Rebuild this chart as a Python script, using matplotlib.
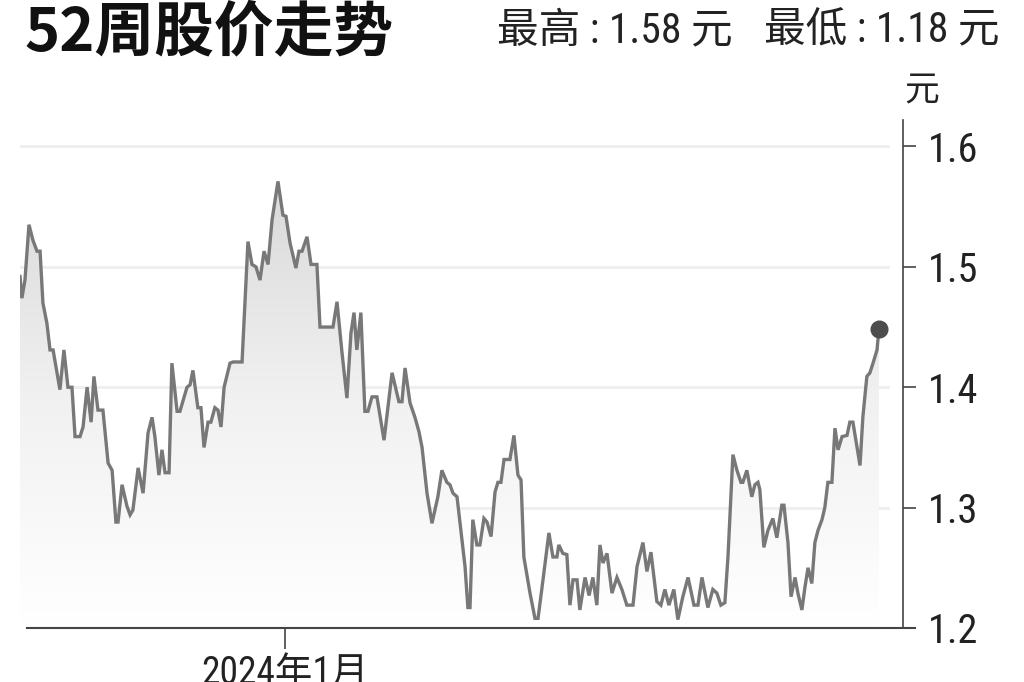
import numpy as np
import pandas as pd
import matplotlib
matplotlib.use("Agg")
import matplotlib.pyplot as plt
import matplotlib.dates as mdates
from matplotlib import font_manager as fm
from matplotlib.colors import LinearSegmentedColormap

# ---------------- data ----------------
start_date = "2023-09-11"
day_offsets = [
    0.0, 0.8, 2.1, 3.8, 5.5, 7.2, 8.5, 9.7, 11.4, 12.7, 14.0, 16.9, 18.6, 20.3, 22.0,
    23.3, 25.4, 26.7, 28.4, 30.1, 31.3, 33.0, 35.1, 37.3, 39.0, 40.6, 41.5, 43.2, 45.3,
    46.6, 47.8, 50.0, 52.1, 54.2, 55.9, 57.1, 58.8, 60.1, 61.4, 63.1, 64.3, 66.5, 67.7,
    70.7, 72.0, 73.2, 75.3, 76.6, 77.9, 79.6, 80.8, 82.5, 83.8, 85.1, 86.4, 88.9, 90.2,
    94.0, 96.5, 98.2, 99.9, 101.6, 103.3, 105.0, 106.7, 109.2, 111.3, 112.6, 114.3,
    116.8, 118.1, 119.4, 121.5, 123.2, 125.7, 127.0, 132.5, 134.2, 136.3, 138.4, 140.1,
    141.4, 142.6, 144.3, 146.0, 147.3, 149.0, 151.1, 154.1, 157.5, 160.4, 161.7, 163.0,
    165.1, 167.2, 168.9, 170.2, 172.3, 174.4, 176.9, 178.6, 180.7, 182.0, 183.3, 185.0,
    187.1, 188.4, 189.6, 190.5, 191.7, 193.4, 194.7, 196.4, 197.7, 199.4, 201.1, 202.3,
    203.6, 204.9, 207.4, 209.1, 210.8, 212.1, 213.3, 215.9, 218.0, 219.3, 221.4, 223.9,
    225.6, 227.3, 228.1, 229.8, 231.5, 232.8, 234.1, 235.8, 237.0, 239.2, 240.9, 242.5,
    244.2, 245.5, 246.8, 248.5, 250.6, 252.7, 254.8, 256.9, 259.5, 261.2, 263.7, 265.4,
    267.1, 269.6, 271.3, 273.0, 274.7, 276.8, 278.5, 280.6, 282.8, 285.3, 287.0, 288.7,
    291.2, 293.3, 295.0, 296.7, 298.4, 299.7, 301.8, 303.5, 305.2, 306.0, 307.7, 309.8,
    311.1, 312.4, 313.2, 314.9, 316.6, 318.7, 320.4, 322.5, 323.4, 325.1, 326.4, 328.1,
    329.3, 331.0, 332.3, 333.6, 335.2, 336.5, 337.8, 339.5, 340.7, 342.0, 343.7, 345.0,
    346.3, 348.0, 350.1, 351.3, 352.6, 355.6, 356.8, 358.5, 359.8, 361.1, 362.8, 363.6,
]
prices = [
    1.492, 1.474, 1.489, 1.535, 1.522, 1.513, 1.513, 1.470, 1.453, 1.431, 1.431, 1.398,
    1.431, 1.400, 1.400, 1.359, 1.359, 1.367, 1.400, 1.371, 1.409, 1.381, 1.381, 1.337,
    1.331, 1.288, 1.288, 1.319, 1.301, 1.294, 1.298, 1.333, 1.312, 1.362, 1.375, 1.359,
    1.327, 1.348, 1.329, 1.329, 1.420, 1.380, 1.380, 1.400, 1.402, 1.414, 1.383, 1.383,
    1.350, 1.371, 1.371, 1.383, 1.381, 1.367, 1.400, 1.420, 1.421, 1.421, 1.521, 1.502,
    1.500, 1.489, 1.513, 1.502, 1.539, 1.571, 1.543, 1.542, 1.520, 1.499, 1.513, 1.513,
    1.525, 1.502, 1.502, 1.450, 1.450, 1.471, 1.429, 1.391, 1.445, 1.462, 1.431, 1.462,
    1.380, 1.380, 1.392, 1.392, 1.356, 1.412, 1.388, 1.388, 1.416, 1.387, 1.375, 1.363,
    1.350, 1.312, 1.287, 1.309, 1.331, 1.321, 1.319, 1.312, 1.309, 1.273, 1.251, 1.217,
    1.217, 1.290, 1.269, 1.269, 1.291, 1.288, 1.276, 1.313, 1.321, 1.321, 1.340, 1.340,
    1.360, 1.327, 1.323, 1.259, 1.229, 1.208, 1.208, 1.240, 1.279, 1.259, 1.259, 1.269,
    1.262, 1.261, 1.219, 1.240, 1.240, 1.215, 1.242, 1.227, 1.242, 1.219, 1.269, 1.254,
    1.262, 1.229, 1.242, 1.232, 1.219, 1.219, 1.251, 1.271, 1.247, 1.263, 1.222, 1.219,
    1.232, 1.219, 1.232, 1.207, 1.226, 1.242, 1.219, 1.219, 1.242, 1.217, 1.232, 1.229,
    1.219, 1.221, 1.259, 1.344, 1.331, 1.321, 1.321, 1.331, 1.309, 1.319, 1.321, 1.315,
    1.267, 1.281, 1.291, 1.275, 1.302, 1.302, 1.271, 1.226, 1.242, 1.229, 1.215, 1.234,
    1.250, 1.237, 1.271, 1.281, 1.290, 1.300, 1.321, 1.321, 1.366, 1.348, 1.359, 1.360,
    1.371, 1.371, 1.335, 1.375, 1.409, 1.412, 1.420, 1.431, 1.448,
]
y_ticks = [1.2, 1.3, 1.4, 1.5, 1.6]
y_tick_labels = ["1.2", "1.3", "1.4", "1.5", "1.6"]
x_tick_date = "2024-01-01"
x_tick_label = "2024年1月"
title_text = "52周股价走势"
high_text = "最高 : 1.58 元"
low_text = "最低 : 1.18 元"
unit_text = "元"

# ---------------- fonts ----------------
names = {f.name for f in fm.fontManager.ttflist}
narrow = next((n for n in ["Liberation Sans Narrow", "Roboto Condensed",
                           "Open Sans Condensed", "Liberation Sans"] if n in names), "DejaVu Sans")
cjk = "Noto Sans CJK SC"
mixed = [narrow, cjk, "DejaVu Sans"]

# ---------------- figure ----------------
W, H = 1024, 682
fig = plt.figure(figsize=(W / 100, H / 100), dpi=100)
fig.patch.set_facecolor("white")
ax = fig.add_axes([20 / W, 54 / H, (903 - 20) / W, (628 - 120) / H])

t0 = pd.Timestamp(start_date)
dates = t0 + pd.to_timedelta(day_offsets, unit="D")
xn = mdates.date2num(dates.to_pydatetime())
yv = np.array(prices)

xmin = xn[0]
xmax = mdates.date2num((t0 + pd.Timedelta(days=373.8)).to_pydatetime())
ymin, ymax = 1.2, 1.622
ax.set_xlim(xmin, xmax)
ax.set_ylim(ymin, ymax)

# gridlines
for yt in y_ticks[1:]:
    ax.axhline(yt, xmin=0, xmax=(888 - 20) / (903 - 20), color="#eeeeee", lw=2.0, zorder=0)

# gradient fill under the line
grad = np.linspace(0, 1, 256).reshape(-1, 1)
cmap = LinearSegmentedColormap.from_list("g", ["#ffffff", "#f1f1f1", "#d8d8d8"])
poly = ax.fill_between(xn, yv, ymin, color="none", lw=0)
img = ax.imshow(grad, extent=[xmin, xn[-1], ymin, 1.58], origin="lower",
                aspect="auto", cmap=cmap, zorder=1)
img.set_clip_path(poly.get_paths()[0], transform=ax.transData)

ax.plot(xn, yv, color="#787878", lw=2.4, zorder=3, solid_joinstyle="miter")
ax.plot(xn[-1:], yv[-1:], "o", color="#4d4d4d", ms=12, zorder=4)

# spines
for s in ["left", "top"]:
    ax.spines[s].set_visible(False)
ax.spines["right"].set_color("#444444")
ax.spines["right"].set_linewidth(1.2)
ax.spines["bottom"].set_color("#444444")
ax.spines["bottom"].set_linewidth(1.5)
ax.spines["bottom"].set_bounds(xn[0] + 3, xmax + 5)

ax.yaxis.tick_right()
ax.set_yticks(y_ticks)
ax.set_yticklabels(y_tick_labels, fontfamily=narrow, fontsize=29, color="#222222")
ax.tick_params(axis="y", length=9, width=1.2, color="#444444", pad=9)

ax.set_xticks([mdates.date2num(pd.Timestamp(x_tick_date).to_pydatetime())])
ax.set_xticklabels([x_tick_label])
for lbl in ax.get_xticklabels():
    lbl.set_fontfamily(mixed)
    lbl.set_fontsize(27)
    lbl.set_color("#222222")
ax.tick_params(axis="x", length=15, width=1.2, color="#444444", pad=4)

# texts
fig.text(25 / W, 1 - 3 / H, title_text, fontfamily=[cjk], fontweight="heavy",
         fontsize=43, va="top", ha="left", color="#111111")
fig.text(497 / W, 1 - 10 / H, high_text, fontfamily=mixed, fontsize=30,
         va="top", ha="left", color="#222222")
fig.text(1000 / W, 1 - 10 / H, low_text, fontfamily=mixed, fontsize=30,
         va="top", ha="right", color="#222222")
fig.text(922 / W, 1 - 73 / H, unit_text, fontfamily=[cjk], fontsize=25,
         va="top", ha="center", color="#222222")

fig.savefig("out.png", dpi=100, facecolor="white")
